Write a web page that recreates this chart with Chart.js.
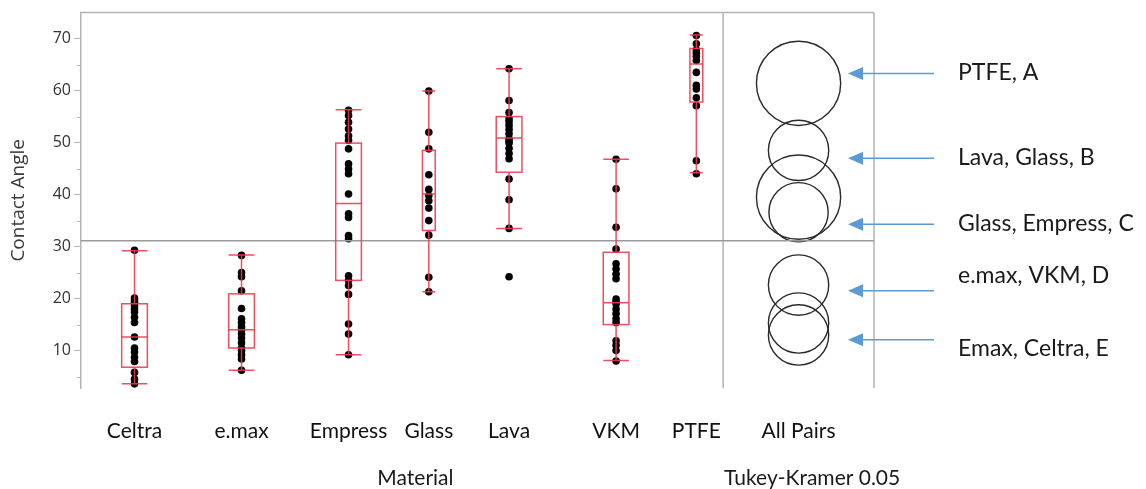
<!DOCTYPE html>
<html>
<head>
<meta charset="utf-8">
<script src="https://cdn.jsdelivr.net/npm/chart.js@4/dist/chart.umd.min.js"></script>
<style>
html,body{margin:0;padding:0;background:#fff;}
#c{display:block;}
</style>
</head>
<body>
<canvas id="c" width="1146" height="489"></canvas>
<script>
// ---------- data ----------
const categories = ['Celtra', 'e.max', 'Empress', 'Glass', 'Lava', 'VKM', 'PTFE'];
const groupSizes = [20, 20, 20, 10, 20, 20, 10]; // relative column widths (JMP proportional)

const celtraValues  = [29.3, 20.1, 19.6, 19.2, 18.6, 18.0, 17.4, 16.4, 15.4, 12.6, 10.5, 9.7, 8.7, 7.9, 5.8, 4.5, 3.6];
const emaxValues    = [28.3, 25.0, 24.2, 21.5, 18.1, 16.1, 15.4, 14.6, 14.0, 13.2, 12.4, 11.5, 10.5, 10.0, 9.2, 8.4, 6.2];
const empressValues = [56.2, 55.2, 53.9, 52.6, 51.3, 50.4, 48.8, 45.9, 44.9, 44.0, 40.1, 36.3, 35.6, 32.1, 31.5, 24.4, 23.5, 22.5, 20.8, 15.1, 13.2, 9.2];
const glassValues   = [59.9, 52.0, 48.8, 43.8, 41.0, 39.8, 38.8, 37.4, 35.0, 32.2, 24.1, 21.3];
const lavaValues    = [64.2, 58.1, 55.8, 54.6, 54.0, 53.3, 52.5, 51.7, 50.8, 50.3, 49.9, 48.9, 47.9, 46.9, 43.0, 39.0, 33.5, 24.2];
const vkmValues     = [46.8, 41.1, 33.7, 29.5, 26.7, 25.7, 24.7, 23.8, 19.9, 19.4, 19.0, 18.0, 17.1, 16.1, 15.4, 11.9, 11.0, 10.0, 8.0];
const ptfeValues    = [70.6, 69.0, 67.8, 67.2, 66.6, 65.8, 63.5, 61.0, 60.3, 58.6, 57.1, 46.5, 44.0];

const boxQ1        = [6.8, 10.5, 23.5, 33.1, 44.3, 15.0, 57.8];
const boxMedian    = [12.6, 14.0, 38.3, 40.1, 50.9, 19.2, 65.1];
const boxQ3        = [19.0, 20.9, 49.9, 48.5, 55.0, 28.9, 68.1];
const whiskerLow   = [3.6, 6.2, 9.2, 21.3, 33.5, 8.1, 44.2];
const whiskerHigh  = [29.2, 28.4, 56.3, 59.9, 64.2, 46.8, 70.7];

const groupMeans   = [13.0, 15.3, 36.6, 39.5, 48.5, 22.6, 61.4];
const circleRadii  = [5.8, 5.8, 5.7, 8.1, 5.8, 5.8, 8.1]; // comparison-circle radii, in Contact Angle units
const grandMean    = 31.1;

const yTicks       = [10, 20, 30, 40, 50, 60, 70];
const yMinorTicks  = [5, 15, 25, 35, 45, 55, 65];
const allPairsLabel = 'All Pairs';

const pairGroupLabels = ['PTFE, A', 'Lava, Glass, B', 'Glass, Empress, C', 'e.max, VKM, D', 'Emax, Celtra, E'];
const pairArrowAt     = [63.3, 47.0, 34.3, 21.5, 12.1];
const pairLabelAt     = [63.5, 47.1, 34.5, 24.4, 10.3];

// ---------- derived structures ----------
const groupValues = [celtraValues, emaxValues, empressValues, glassValues, lavaValues, vkmValues, ptfeValues];
const groupsTotal = groupSizes.reduce((a, b) => a + b, 0);
const groupCenters = [];
{ let acc = 0; groupSizes.forEach(s => { groupCenters.push(acc + s / 2); acc += s; }); }
const panelWidth = 28.2;
const xMax = groupsTotal + panelWidth;
const allPairsX = groupsTotal + panelWidth / 2;

const pointData = [];
groupValues.forEach((vals, i) => vals.forEach(v => pointData.push({ x: groupCenters[i], y: v })));
const circleData = groupMeans.map(m => ({ x: allPairsX, y: m }));
const tickPositions = [...groupCenters, allPairsX];
const tickLabels = [...categories, allPairsLabel];

const BOX_COLOR = 'rgba(238,58,78,0.9)';
const FRAME_COLOR = '#b4b4b4';
const BOX_FRAC = 0.24;

function unitsToPx(scale, d) {
  return Math.abs(scale.getPixelForValue(d) - scale.getPixelForValue(0));
}

const framePlugin = {
  id: 'frame',
  beforeDatasetsDraw(chart) {
    const { ctx, chartArea: a, scales: { x, y } } = chart;
    ctx.save();
    ctx.strokeStyle = FRAME_COLOR;
    ctx.lineWidth = 1.5;
    ctx.beginPath();
    ctx.moveTo(a.left - 1, a.top); ctx.lineTo(a.right, a.top);
    const sx = x.getPixelForValue(groupsTotal);
    ctx.moveTo(sx, a.top); ctx.lineTo(sx, a.bottom);
    ctx.moveTo(a.right, a.top); ctx.lineTo(a.right, a.bottom);
    ctx.stroke();
    ctx.lineWidth = 1;
    ctx.beginPath();
    yMinorTicks.forEach(v => {
      const py = Math.round(y.getPixelForValue(v)) + 0.5;
      ctx.moveTo(a.left - 4, py); ctx.lineTo(a.left, py);
    });
    ctx.stroke();
    ctx.restore();
  }
};

const boxPlugin = {
  id: 'boxes',
  afterDatasetsDraw(chart) {
    const { ctx, scales: { x, y } } = chart;
    ctx.save();
    ctx.strokeStyle = BOX_COLOR;
    ctx.lineWidth = 1.5;
    categories.forEach((c, i) => {
      const cx = x.getPixelForValue(groupCenters[i]);
      const hw = unitsToPx(x, groupSizes[i] * BOX_FRAC) / 2;
      const p1 = y.getPixelForValue(boxQ1[i]);
      const pm = y.getPixelForValue(boxMedian[i]);
      const p3 = y.getPixelForValue(boxQ3[i]);
      const pl = y.getPixelForValue(whiskerLow[i]);
      const ph = y.getPixelForValue(whiskerHigh[i]);
      ctx.strokeRect(cx - hw, p3, 2 * hw, p1 - p3);
      ctx.beginPath();
      ctx.moveTo(cx - hw, pm); ctx.lineTo(cx + hw, pm);
      ctx.moveTo(cx, p3); ctx.lineTo(cx, ph);
      ctx.moveTo(cx, p1); ctx.lineTo(cx, pl);
      ctx.moveTo(cx - hw, ph); ctx.lineTo(cx + hw, ph);
      ctx.moveTo(cx - hw, pl); ctx.lineTo(cx + hw, pl);
      ctx.stroke();
    });
    ctx.restore();
  }
};

const annotPlugin = {
  id: 'annot',
  afterDraw(chart) {
    const { ctx, chartArea: a, scales: { x, y } } = chart;
    ctx.save();
    // arrows + pair group labels
    ctx.strokeStyle = '#5B9BD5';
    ctx.fillStyle = '#5B9BD5';
    ctx.lineWidth = 1.5;
    pairArrowAt.forEach(v => {
      const py = y.getPixelForValue(v);
      const tip = a.right - 26;
      const tail = a.right + 60;
      ctx.beginPath();
      ctx.moveTo(tail, py); ctx.lineTo(tip + 12, py);
      ctx.stroke();
      ctx.beginPath();
      ctx.moveTo(tip, py); ctx.lineTo(tip + 15, py - 6.5); ctx.lineTo(tip + 15, py + 6.5);
      ctx.closePath(); ctx.fill();
    });
    ctx.fillStyle = '#1a1a1a';
    ctx.font = '23px Lato';
    ctx.textBaseline = 'middle';
    ctx.textAlign = 'left';
    pairGroupLabels.forEach((t, i) => {
      ctx.fillText(t, a.right + 84, y.getPixelForValue(pairLabelAt[i]));
    });
    // axis titles
    ctx.font = '21px Lato';
    ctx.textAlign = 'center';
    const mx = (x.getPixelForValue(groupCenters[0]) + x.getPixelForValue(groupCenters[groupCenters.length - 1])) / 2;
    ctx.fillText('Material', mx, a.bottom + 90);
    ctx.textAlign = 'left';
    ctx.fillText('Tukey-Kramer 0.05', x.getPixelForValue(groupsTotal) + 1, a.bottom + 90);
    ctx.restore();
  }
};

new Chart(document.getElementById('c'), {
  data: {
    datasets: [
      {
        type: 'line',
        data: [{ x: 0, y: grandMean }, { x: xMax, y: grandMean }],
        borderColor: '#9a9a9a', borderWidth: 1.5, pointRadius: 0, fill: false
      },
      {
        type: 'scatter',
        data: pointData,
        backgroundColor: '#000', borderColor: '#000', borderWidth: 0,
        pointRadius: 3.8, pointHoverRadius: 3.8, clip: false
      },
      {
        type: 'scatter',
        data: circleData,
        backgroundColor: 'rgba(0,0,0,0)', borderColor: '#2a2a2a', borderWidth: 1.4,
        pointRadius: ctx => unitsToPx(ctx.chart.scales.y, circleRadii[ctx.dataIndex]),
        pointHoverRadius: ctx => unitsToPx(ctx.chart.scales.y, circleRadii[ctx.dataIndex]),
        clip: false
      }
    ]
  },
  options: {
    responsive: false,
    animation: false,
    devicePixelRatio: 1,
    events: [],
    layout: { padding: { top: 12, right: 272, left: 0, bottom: 0 } },
    plugins: { legend: { display: false }, tooltip: { enabled: false } },
    scales: {
      x: {
        type: 'linear', min: 0, max: xMax,
        grid: { display: false },
        border: { display: false },
        afterBuildTicks: s => { s.ticks = tickPositions.map(v => ({ value: v })); },
        afterFit: s => { s.height = 101; },
        ticks: {
          autoSkip: false, maxRotation: 0, minRotation: 0, padding: 23,
          color: '#111', font: { family: 'Lato', size: 21 },
          callback: (v, i) => tickLabels[i]
        }
      },
      y: {
        type: 'linear', min: 2.8, max: 75,
        afterBuildTicks: s => { s.ticks = yTicks.map(v => ({ value: v })); },
        afterFit: s => { s.width = 81; },
        grid: { display: true, drawOnChartArea: false, tickLength: 7, color: FRAME_COLOR, lineWidth: 1 },
        border: { display: true, color: FRAME_COLOR, width: 1.5 },
        ticks: { padding: 3, color: '#333', font: { family: 'Open Sans', size: 16 } },
        title: {
          display: true, text: 'Contact Angle', color: '#3a3a3a',
          font: { family: 'Open Sans', size: 19 }, padding: { top: 7, bottom: 0 }
        }
      }
    }
  },
  plugins: [framePlugin, boxPlugin, annotPlugin]
});
</script>
</body>
</html>
